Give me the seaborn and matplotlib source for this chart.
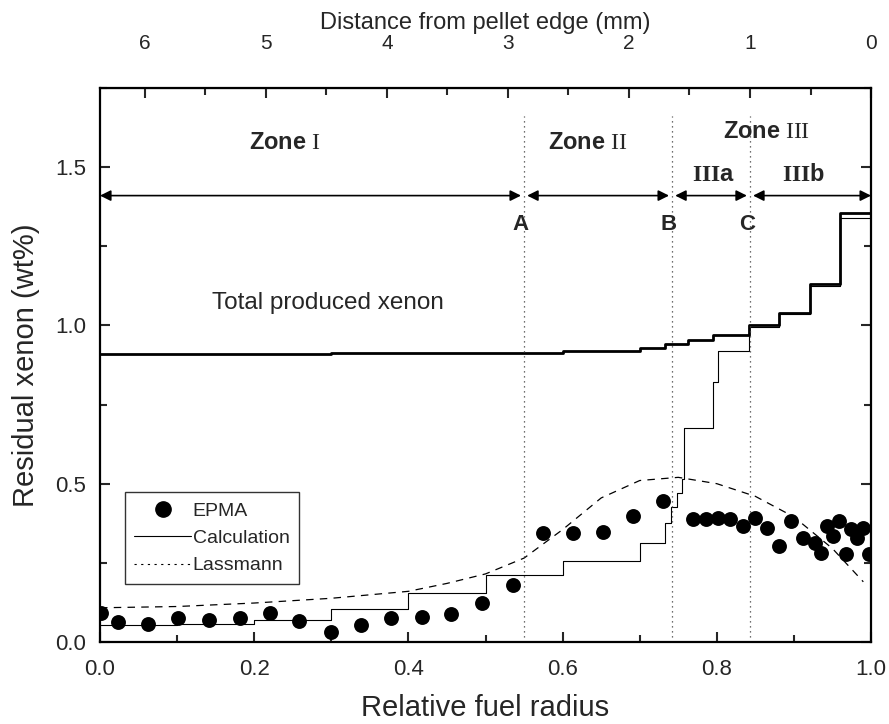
import numpy as np
import pandas as pd
import matplotlib.pyplot as plt
import seaborn as sns
from matplotlib.lines import Line2D
from matplotlib.ticker import MultipleLocator, FixedLocator

# EPMA measurements (relative radius, residual Xe wt%)
epma_r = [0.001, 0.023, 0.062, 0.101, 0.141, 0.181, 0.220, 0.258, 0.299, 0.338,
          0.377, 0.417, 0.455, 0.495, 0.535, 0.574, 0.613, 0.652, 0.691, 0.730,
          0.769, 0.786, 0.802, 0.817, 0.834, 0.850, 0.865, 0.880, 0.896, 0.912,
          0.927, 0.935, 0.943, 0.951, 0.959, 0.967, 0.974, 0.982, 0.990, 0.997]
epma_xe = [0.090, 0.064, 0.058, 0.077, 0.069, 0.075, 0.093, 0.067, 0.030, 0.054,
           0.077, 0.080, 0.088, 0.124, 0.181, 0.345, 0.345, 0.348, 0.399, 0.446,
           0.389, 0.389, 0.393, 0.389, 0.367, 0.393, 0.361, 0.304, 0.383, 0.329,
           0.314, 0.282, 0.367, 0.335, 0.383, 0.278, 0.358, 0.329, 0.361, 0.278]

# calculated residual xenon (step profile)
calc_edges = [0.0, 0.1, 0.2, 0.3, 0.4, 0.5, 0.6, 0.7, 0.733, 0.741, 0.748, 0.755,
              0.757, 0.795, 0.802, 0.842, 0.881, 0.921, 0.96, 1.0]
calc_xe = [0.055, 0.057, 0.07, 0.105, 0.155, 0.21, 0.256, 0.313, 0.377, 0.425,
           0.472, 0.515, 0.677, 0.82, 0.92, 0.995, 1.035, 1.125, 1.34]

# total produced xenon (step profile)
total_edges = [0.0, 0.1, 0.2, 0.3, 0.4, 0.5, 0.6, 0.7, 0.733, 0.763, 0.795,
               0.842, 0.881, 0.921, 0.96, 1.0]
total_xe = [0.91, 0.911, 0.911, 0.912, 0.912, 0.914, 0.918, 0.93, 0.94, 0.953,
            0.97, 1.0, 1.04, 1.13, 1.355]

# Lassmann model curve
lassmann_r = [0.0, 0.1, 0.2, 0.3, 0.4, 0.45, 0.5, 0.55, 0.6, 0.65, 0.7, 0.75,
              0.8, 0.85, 0.9, 0.95, 0.99]
lassmann_xe = [0.108, 0.112, 0.123, 0.138, 0.16, 0.185, 0.215, 0.265, 0.355,
               0.455, 0.51, 0.52, 0.5, 0.46, 0.395, 0.295, 0.19]

zone_bounds = [0.55, 0.742, 0.843]   # A, B, C
pellet_radius_mm = 6.37
top_ticks_mm = [0, 1, 2, 3, 4, 5, 6]
top_minor_mm = [0.5, 1.5, 2.5, 3.5, 4.5, 5.5]


def steps(edges, vals):
    return pd.DataFrame({'r': edges, 'xe': list(vals) + [vals[-1]]})


sns.set_style("ticks")
plt.rcParams['font.family'] = ['Liberation Sans', 'DejaVu Sans']
plt.rcParams['mathtext.fontset'] = 'custom'
plt.rcParams['mathtext.bf'] = 'Liberation Sans:bold'
plt.rcParams['mathtext.rm'] = 'Liberation Serif'
plt.rcParams['mathtext.it'] = 'Liberation Serif:bold'

fig = plt.figure(figsize=(8.89, 7.24), dpi=100)
ax = fig.add_axes([0.1125, 0.1133, 0.8673, 0.7652])

sns.lineplot(data=steps(total_edges, total_xe), x='r', y='xe', drawstyle='steps-post',
             color='black', lw=2.0, sort=False, estimator=None, ax=ax)
sns.lineplot(data=steps(calc_edges, calc_xe), x='r', y='xe', drawstyle='steps-post',
             color='black', lw=0.8, sort=False, estimator=None, ax=ax)
sns.lineplot(x=lassmann_r, y=lassmann_xe, color='black', lw=0.9,
             linestyle=(0, (6, 5)), sort=False, estimator=None, ax=ax)
sns.scatterplot(x=epma_r, y=epma_xe, color='black', s=115, edgecolor='black',
                linewidth=0, zorder=5, ax=ax)

# zone boundaries
ax.vlines(zone_bounds, 0, 1.66, colors='0.25', linestyles=(0, (1, 3)), lw=0.9)

arrow_y = 1.41
spans = [(0.0, zone_bounds[0] - 0.004), (zone_bounds[0] + 0.004, zone_bounds[1] - 0.004),
         (zone_bounds[1] + 0.004, zone_bounds[2] - 0.004), (zone_bounds[2] + 0.004, 1.0)]
for x0, x1 in spans:
    ax.annotate('', xy=(x1, arrow_y), xytext=(x0, arrow_y),
                arrowprops=dict(arrowstyle='<|-|>', color='black', lw=1.2,
                                shrinkA=0, shrinkB=0, mutation_scale=16))

ax.text(0.24, 1.575, r'$\mathbf{Zone}\ \mathrm{I}$', fontsize=17, ha='center', va='center')
ax.text(0.633, 1.575, r'$\mathbf{Zone}\ \mathrm{II}$', fontsize=17, ha='center', va='center')
ax.text(0.865, 1.61, r'$\mathbf{Zone}\ \mathrm{III}$', fontsize=17, ha='center', va='center')
ax.text(0.795, 1.475, r'$\mathit{III}\mathbf{a}$', fontsize=17, ha='center', va='center')
ax.text(0.912, 1.475, r'$\mathit{III}\mathbf{b}$', fontsize=17, ha='center', va='center')
for lab, xb in zip(['A', 'B', 'C'], zone_bounds):
    ax.text(xb - 0.004, 1.32, lab, fontsize=16, fontweight='bold', ha='center', va='center')

ax.text(0.145, 1.07, 'Total produced xenon', fontsize=17.5, ha='left', va='center')

ax.set_xlim(0, 1.0)
ax.set_ylim(0, 1.75)
ax.xaxis.set_major_locator(MultipleLocator(0.2))
ax.xaxis.set_minor_locator(MultipleLocator(0.1))
ax.yaxis.set_major_locator(MultipleLocator(0.5))
ax.yaxis.set_minor_locator(MultipleLocator(0.25))
ax.xaxis.set_major_formatter(lambda v, p: f'{v:.1f}')
ax.yaxis.set_major_formatter(lambda v, p: f'{v:.1f}')
ax.tick_params(which='both', direction='in', right=True, top=False, width=1.5,
               labelsize=16)
ax.tick_params(axis='x', pad=12)
ax.tick_params(axis='y', pad=10)
ax.tick_params(which='major', length=7)
ax.tick_params(which='minor', length=5)
for sp in ax.spines.values():
    sp.set_linewidth(1.6)
    sp.set_color('black')

ax.set_xlabel('Relative fuel radius', fontsize=21, labelpad=10)
ax.set_ylabel('Residual xenon (wt%)', fontsize=21, labelpad=11)

top = ax.secondary_xaxis('top', functions=(lambda r: pellet_radius_mm * (1 - r),
                                           lambda d: 1 - d / pellet_radius_mm))
top.xaxis.set_major_locator(FixedLocator(top_ticks_mm))
top.xaxis.set_minor_locator(FixedLocator(top_minor_mm))
top.xaxis.set_major_formatter(lambda v, p: f'{abs(round(v))}')
top.tick_params(which='both', direction='in', width=1.5, labelsize=15, pad=25)
top.tick_params(which='major', length=7)
top.tick_params(which='minor', length=5)
top.set_xlabel('Distance from pellet edge (mm)', fontsize=17, labelpad=3.5)

handles = [Line2D([], [], marker='o', color='black', linestyle='none', markersize=11),
           Line2D([], [], color='black', lw=0.8),
           Line2D([], [], color='black', lw=0.8, linestyle=(0, (2, 4)))]
leg = ax.legend(handles, ['EPMA', 'Calculation', 'Lassmann'], loc='upper left',
                bbox_to_anchor=(0.032, 0.27), fontsize=14, frameon=True, fancybox=False,
                handlelength=2.9, handletextpad=0.1, borderpad=0.5, borderaxespad=0,
                labelspacing=0.5)
leg.get_frame().set_edgecolor('black')
leg.get_frame().set_linewidth(1.0)

fig.savefig('out.png', dpi=100)
